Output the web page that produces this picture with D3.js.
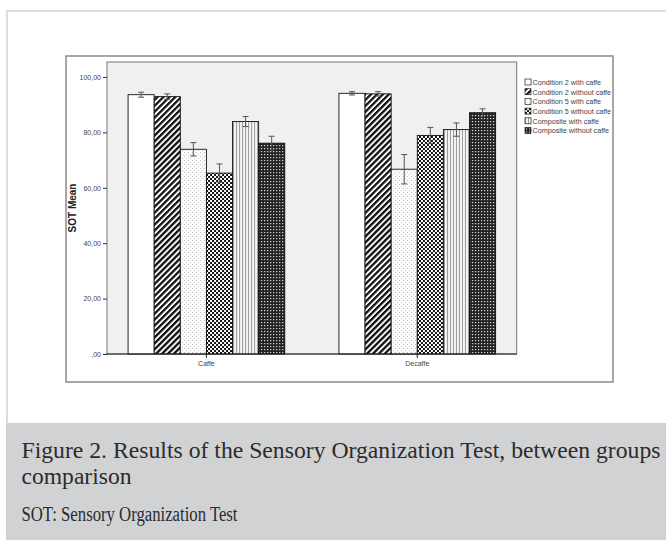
<!DOCTYPE html>
<html>
<head>
<meta charset="utf-8">
<script src="https://cdn.jsdelivr.net/npm/d3@7"></script>
<style>
  html, body { margin: 0; padding: 0; background: #fff; }
  svg { display: block; }
</style>
</head>
<body>
<div id="chart"></div>
<script>
const groups = ['Caffe', 'Decaffe']
const series = [
  'Condition 2 with caffe',
  'Condition 2 without caffe',
  'Condition 5 with caffe',
  'Condition 5 without caffe',
  'Composite with caffe',
  'Composite without caffe'
]
const caffeMeans = [93.6, 92.9, 73.9, 65.3, 83.9, 76.1]
const caffeErrors = [0.9, 1.0, 2.4, 3.3, 1.8, 2.5]
const decaffeMeans = [94.1, 93.9, 66.7, 78.9, 81.0, 87.1]
const decaffeErrors = [0.6, 0.8, 5.3, 2.9, 2.4, 1.4]
const yTicks = [0, 20, 40, 60, 80, 100]
const captionLines = [
  'Figure 2. Results of the Sensory Organization Test, between groups',
  'comparison'
]
const noteText = 'SOT: Sensory Organization Test'

const width = 666
const height = 543
const plot = { left: 107, right: 516.7, top: 62, bottom: 354 }
const patternIds = ['p-white', 'p-stripe', 'p-dots', 'p-check', 'p-vlines', 'p-dense']

const rows = groups.map((g, gi) => ({
  group: g,
  values: series.map((s, i) => ({
    series: i,
    mean: gi === 0 ? caffeMeans[i] : decaffeMeans[i],
    err: gi === 0 ? caffeErrors[i] : decaffeErrors[i]
  }))
}))

const svg = d3.select('#chart')
  .append('svg')
  .attr('width', width)
  .attr('height', height)
  .attr('viewBox', [0, 0, width, height])

// patterns
const defs = svg.append('defs')
const pat = (id, w, h, rot) => {
  const p = defs.append('pattern')
    .attr('id', id)
    .attr('patternUnits', 'userSpaceOnUse')
    .attr('width', w)
    .attr('height', h)
  if (rot) p.attr('patternTransform', `rotate(${rot})`)
  return p
}
pat('p-white', 4, 4).append('rect').attr('width', 4).attr('height', 4).attr('fill', '#fff')

const stripe = pat('p-stripe', 4.2, 4.2, 45)
stripe.append('rect').attr('width', 4.2).attr('height', 4.2).attr('fill', '#fff')
stripe.append('rect').attr('width', 2.3).attr('height', 4.2).attr('fill', '#111')

const dots = pat('p-dots', 4, 4)
dots.append('rect').attr('width', 4).attr('height', 4).attr('fill', '#fbfbfb')
dots.append('rect').attr('x', 0).attr('y', 0).attr('width', 1).attr('height', 1).attr('fill', '#bdbdbd')
dots.append('rect').attr('x', 2).attr('y', 2).attr('width', 1).attr('height', 1).attr('fill', '#d0d0d0')

const check = pat('p-check', 4, 4)
check.append('rect').attr('width', 4).attr('height', 4).attr('fill', '#fff')
check.append('rect').attr('width', 2).attr('height', 2).attr('fill', '#111')
check.append('rect').attr('x', 2).attr('y', 2).attr('width', 2).attr('height', 2).attr('fill', '#111')

const vlines = pat('p-vlines', 3, 3)
vlines.append('rect').attr('width', 3).attr('height', 3).attr('fill', '#f4f4f4')
vlines.append('rect').attr('width', 1).attr('height', 3).attr('fill', '#999')

const dense = pat('p-dense', 3, 3)
dense.append('rect').attr('width', 3).attr('height', 3).attr('fill', '#222')
dense.append('rect').attr('x', 1).attr('y', 1).attr('width', 1.2).attr('height', 1.2).attr('fill', '#ddd')

// card
svg.append('rect')
  .attr('x', 7).attr('y', 11)
  .attr('width', width).attr('height', 440)
  .attr('fill', '#fff')
  .attr('stroke', '#dcdcdc')
  .attr('stroke-width', 2)

svg.append('rect')
  .attr('x', 6).attr('y', 423)
  .attr('width', width - 6).attr('height', 117)
  .attr('fill', '#d1d2d4')

// chart frame
svg.append('rect')
  .attr('x', 66).attr('y', 56)
  .attr('width', 547).attr('height', 326)
  .attr('fill', '#fff')
  .attr('stroke', '#8a8a8a')
  .attr('stroke-width', 1.5)

svg.append('rect')
  .attr('x', plot.left).attr('y', plot.top)
  .attr('width', plot.right - plot.left).attr('height', plot.bottom - plot.top)
  .attr('fill', '#f0f0f0')
  .attr('stroke', '#777')
  .attr('stroke-width', 1)

const x0 = d3.scaleBand()
  .domain(groups)
  .range([plot.left, plot.right])
  .paddingInner(0.257)
  .paddingOuter(0.1)

const x1 = d3.scaleBand()
  .domain(d3.range(series.length))
  .range([0, x0.bandwidth()])

const y = d3.scaleLinear()
  .domain([0, 105.4])
  .range([plot.bottom, plot.top])

// bars
const g = svg.append('g')
  .selectAll('g')
  .data(rows)
  .join('g')
  .attr('transform', d => `translate(${x0(d.group)},0)`)

g.selectAll('rect')
  .data(d => d.values)
  .join('rect')
  .attr('x', d => x1(d.series))
  .attr('y', d => y(d.mean))
  .attr('width', x1.bandwidth())
  .attr('height', d => y(0) - y(d.mean))
  .attr('fill', d => `url(#${patternIds[d.series]})`)
  .attr('stroke', '#111')
  .attr('stroke-width', 0.9)

// error bars
const eb = g.selectAll('g.err')
  .data(d => d.values)
  .join('g')
  .attr('class', 'err')
  .attr('transform', d => `translate(${x1(d.series) + x1.bandwidth() / 2},0)`)
  .attr('stroke', '#555')
  .attr('stroke-width', 1)

eb.append('line')
  .attr('y1', d => y(d.mean + d.err))
  .attr('y2', d => y(d.mean - d.err))
eb.append('line')
  .attr('x1', -3).attr('x2', 3)
  .attr('y1', d => y(d.mean + d.err))
  .attr('y2', d => y(d.mean + d.err))
eb.append('line')
  .attr('x1', -3).attr('x2', 3)
  .attr('y1', d => y(d.mean - d.err))
  .attr('y2', d => y(d.mean - d.err))

// axes
const yAxis = g => g
  .attr('transform', `translate(${plot.left},0)`)
  .call(d3.axisLeft(y).tickValues(yTicks).tickSize(4).tickPadding(2)
    .tickFormat(v => v === 0 ? ',00' : v + ',00'))
  .call(g => g.select('.domain').remove())
  .call(g => g.selectAll('line').attr('stroke', '#333'))
  .call(g => g.selectAll('text')
    .attr('font-family', 'Liberation Sans, Arial, sans-serif')
    .attr('font-size', 7)
    .attr('fill', '#444'))

const xAxis = g => g
  .attr('transform', `translate(0,${plot.bottom})`)
  .call(d3.axisBottom(x0).tickSize(4).tickPadding(3).tickSizeOuter(0))
  .call(g => g.select('.domain').attr('stroke', '#222').attr('d', `M${plot.left - 1},0H${plot.right}`))
  .call(g => g.selectAll('line').attr('stroke', '#222'))
  .call(g => g.selectAll('text')
    .attr('font-family', 'Liberation Sans, Arial, sans-serif')
    .attr('font-size', 7)
    .attr('fill', '#444'))

svg.append('g').call(yAxis)
svg.append('g').call(xAxis)

svg.append('text')
  .attr('transform', `translate(76,${(plot.top + plot.bottom) / 2}) rotate(-90)`)
  .attr('text-anchor', 'middle')
  .attr('font-family', 'Liberation Sans, Arial, sans-serif')
  .attr('font-weight', 'bold')
  .attr('font-size', 10)
  .attr('fill', '#222')
  .text('SOT Mean')

// legend
const legend = svg.append('g')
  .attr('transform', 'translate(525,79)')
  .selectAll('g')
  .data(series)
  .join('g')
  .attr('transform', (d, i) => `translate(0,${i * 9.7})`)

legend.append('rect')
  .attr('width', 6).attr('height', 6)
  .attr('fill', (d, i) => `url(#${patternIds[i]})`)
  .attr('stroke', '#222')
  .attr('stroke-width', 0.7)

legend.append('text')
  .attr('x', 7.5)
  .attr('y', 5.8)
  .attr('font-family', 'Liberation Sans, Arial, sans-serif')
  .attr('font-size', 7.2)
  .attr('fill', '#444')
  .text(d => d)

// caption (narrow serif look: squeeze to measured widths)
const cap = svg.append('g')
  .attr('font-family', 'Liberation Serif, Times New Roman, serif')
  .attr('fill', '#2b2b2b')
  .attr('font-size', 22.5)

cap.append('text')
  .attr('x', 21.5).attr('y', 458)
  .attr('textLength', 639)
  .attr('lengthAdjust', 'spacingAndGlyphs')
  .text(captionLines[0])

cap.append('text')
  .attr('x', 21.5).attr('y', 484)
  .attr('textLength', 110)
  .attr('lengthAdjust', 'spacingAndGlyphs')
  .text(captionLines[1])

cap.append('text')
  .attr('x', 21.5).attr('y', 521)
  .attr('font-size', 20.5)
  .attr('textLength', 216)
  .attr('lengthAdjust', 'spacingAndGlyphs')
  .text(noteText)
</script>
</body>
</html>
